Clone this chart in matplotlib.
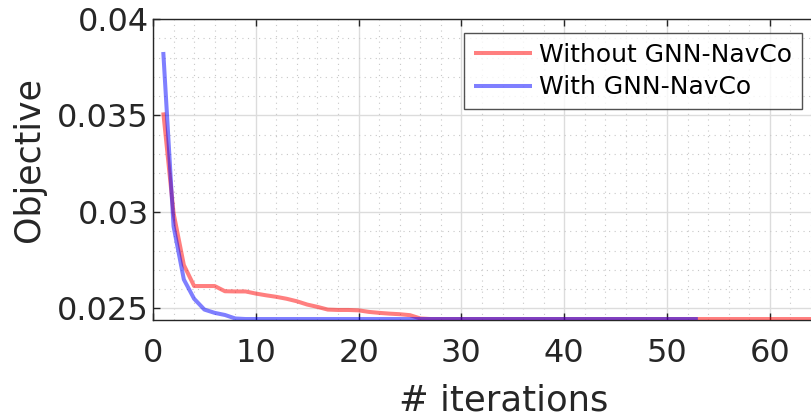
import matplotlib
matplotlib.use("Agg")
import matplotlib.pyplot as plt
from matplotlib.ticker import MultipleLocator

iters_without = list(range(1, 66))
obj_without = [0.03516, 0.02994, 0.02725, 0.02616, 0.02616, 0.02616, 0.02589, 0.02588,
               0.02588, 0.02577, 0.02568, 0.02560, 0.02550, 0.02537, 0.02520, 0.02508,
               0.02494, 0.02492, 0.02492, 0.02490, 0.02482, 0.02477, 0.02473, 0.02470,
               0.02465, 0.02448, 0.02445, 0.02445, 0.02445, 0.02445, 0.02445, 0.02445,
               0.02445, 0.02445, 0.02445, 0.02445, 0.02445, 0.02445, 0.02445, 0.02445,
               0.02445, 0.02445, 0.02445, 0.02445, 0.02445, 0.02445, 0.02445, 0.02445,
               0.02445, 0.02445, 0.02445, 0.02445, 0.02445, 0.02445, 0.02445, 0.02445,
               0.02445, 0.02445, 0.02445, 0.02445, 0.02445, 0.02445, 0.02445, 0.02445,
               0.02445]
iters_with = list(range(1, 54))
obj_with = [0.03829, 0.02925, 0.02650, 0.02550, 0.02494, 0.02477, 0.02466, 0.02448,
            0.02445, 0.02445, 0.02445, 0.02445, 0.02445, 0.02445, 0.02445, 0.02445,
            0.02445, 0.02445, 0.02445, 0.02445, 0.02445, 0.02445, 0.02445, 0.02445,
            0.02445, 0.02445, 0.02445, 0.02445, 0.02445, 0.02445, 0.02445, 0.02445,
            0.02445, 0.02445, 0.02445, 0.02445, 0.02445, 0.02445, 0.02445, 0.02445,
            0.02445, 0.02445, 0.02445, 0.02445, 0.02445, 0.02445, 0.02445, 0.02445,
            0.02445, 0.02445, 0.02445, 0.02445, 0.02445]
x_ticks = [0, 10, 20, 30, 40, 50, 60]
y_ticks = [0.025, 0.03, 0.035, 0.04]
y_ticklabels = ["0.025", "0.03", "0.035", "0.04"]
labels = ["Without GNN-NavCo", "With GNN-NavCo"]

W, H = 811, 419
fig = plt.figure(figsize=(W / 100, H / 100), dpi=100)
px_per_unit = 10.28
xmax = 66
ax_left, ax_top, ax_bottom = 153, 19, 320
ax = fig.add_axes([ax_left / W, (H - ax_bottom) / H,
                   xmax * px_per_unit / W, (ax_bottom - ax_top) / H])

ax.plot(iters_without, obj_without, color=(1, 0, 0, 0.5), lw=2.9, label=labels[0],
        solid_capstyle="butt", zorder=3)
ax.plot(iters_with, obj_with, color=(0, 0, 1, 0.5), lw=2.9, label=labels[1],
        solid_capstyle="butt", zorder=4)

ax.set_xlim(0, xmax)
ax.set_ylim(0.0244, 0.04)
ax.set_xticks(x_ticks)
ax.set_yticks(y_ticks)
ax.set_yticklabels(y_ticklabels)
ax.xaxis.set_minor_locator(MultipleLocator(2))
ax.yaxis.set_minor_locator(MultipleLocator(0.001))

tc = "#262626"
ax.tick_params(which="major", direction="in", length=5, width=1, colors=tc,
               labelsize=23, top=True, right=True, pad=3)
ax.tick_params(axis="x", which="major", pad=13)
ax.tick_params(which="minor", length=0, top=True, right=True)
for s in ax.spines.values():
    s.set_color(tc)
    s.set_linewidth(1)

ax.grid(True, which="major", color="#dcdcdc", lw=1, ls="-", zorder=0)
ax.grid(True, which="minor", color="#c8c8c8", lw=0.8, ls=(0, (1, 4)), zorder=0)
ax.set_axisbelow(True)

ax.set_ylabel("Objective", fontsize=25, color=tc)
ax.set_xlabel("# iterations", fontsize=25.5, color=tc)
axw = xmax * px_per_unit
axh = ax_bottom - ax_top
ax.xaxis.set_label_coords((504 - ax_left) / axw, -(400 - ax_bottom) / axh)
ax.xaxis.label.set_va("center")
ax.yaxis.set_label_coords(-(ax_left - 29) / axw, (ax_bottom - 160) / axh)
ax.yaxis.label.set_va("center")

leg = ax.legend(loc="upper left", bbox_to_anchor=((464 - ax_left) / axw, (ax_bottom - 33) / axh),
                fontsize=18, frameon=True, fancybox=False, borderpad=0.4,
                handlelength=2.3, handletextpad=0.3, labelspacing=0.34, borderaxespad=0)
leg.get_frame().set_edgecolor(tc)
leg.get_frame().set_linewidth(1)
for t in leg.get_texts():
    t.set_color("black")

fig.savefig("out.png", dpi=100)
